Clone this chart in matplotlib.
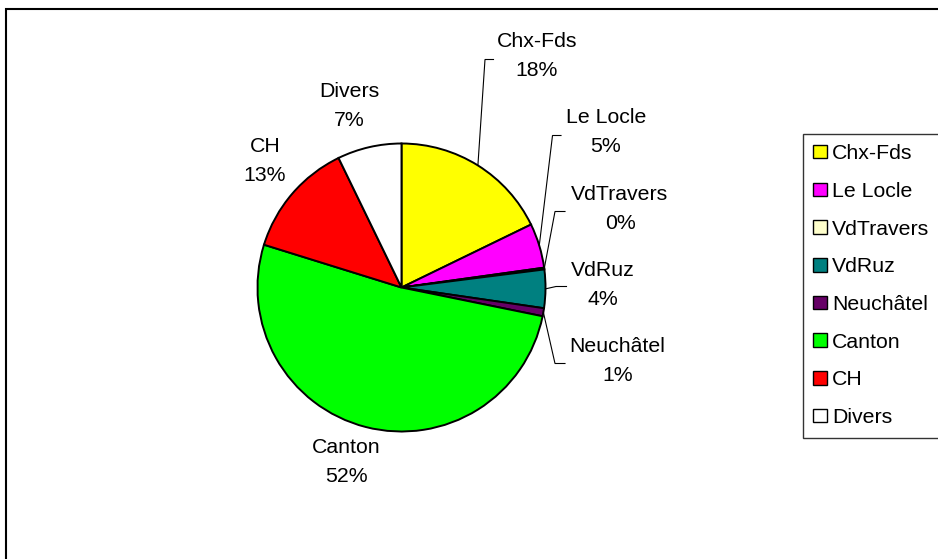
import numpy as np
import matplotlib
matplotlib.use("Agg")
import matplotlib.pyplot as plt
from matplotlib.patches import Rectangle

plt.rcParams['font.family'] = ['Liberation Sans', 'DejaVu Sans']

# ---- data ----
categories = ["Chx-Fds", "Le Locle", "VdTravers", "VdRuz", "Neuchâtel", "Canton", "CH", "Divers"]
values = [17.8, 5.0, 0.2, 4.3, 0.9, 51.6, 13.0, 7.2]
colors = ["#FFFF00", "#FF00FF", "#FFFFCC", "#008080", "#660066", "#00FF00", "#FF0000", "#FFFFFF"]

# ---- layout (pixels in a 938x559 canvas) ----
W, H = 938, 559
cx, cy, R = 401.5, 287.5, 144.0
# label block centers (px)
label_pos = {
    "Chx-Fds": (537, 56),
    "Le Locle": (606, 132),
    "VdTravers": (620, 209),
    "VdRuz": (603, 285),
    "Neuchâtel": (617.5, 361),
    "Canton": (346, 462),
    "CH": (265, 161),
    "Divers": (349, 106),
}
# leader lines: (elbow x, stub end x, y) in px
leaders = {
    "Chx-Fds": (485, 493.5, 59.5),
    "Le Locle": (552.5, 561, 135.5),
    "VdTravers": (555, 565, 211.5),
    "VdRuz": (556, 566.5, 286.5),
    "Neuchâtel": (555, 565, 363.5),
}

fig = plt.figure(figsize=(W / 100, H / 100), dpi=100)
fig.patch.set_facecolor("white")

# outer chart frame
fig.patches.append(Rectangle((6 / W, -0.1), 1.2, (H - 9) / H + 0.1, transform=fig.transFigure,
                             fill=False, edgecolor="black", linewidth=1.5))

ax = fig.add_axes([(cx - R) / W, (H - cy - R) / H, 2 * R / W, 2 * R / H])
wedges, _ = ax.pie(values, colors=colors, startangle=90, counterclock=False, radius=1.0,
                   wedgeprops=dict(edgecolor="black", linewidth=1.4))
ax.set_xlim(-1, 1)
ax.set_ylim(-1, 1)
ax.set_aspect("equal")
ax.axis("off")


def px2d(px, py):
    return (px - cx) / R, (cy - py) / R


total = sum(values)
fs = 15.3
for w, cat, v in zip(wedges, categories, values):
    pct = int(round(100 * v / total))
    lx, ly = px2d(*label_pos[cat])
    ax.text(lx, ly, f"{cat}\n{pct}%", ha="center", va="center", fontsize=fs,
            linespacing=1.64, color="black", clip_on=False)
    if cat in leaders:
        theta = np.deg2rad((w.theta1 + w.theta2) / 2)
        ex, ey = np.cos(theta), np.sin(theta)
        elx, stx, sy = leaders[cat]
        x1, y1 = px2d(elx, sy)
        x2, _ = px2d(stx, sy)
        ax.plot([ex, x1, x2], [ey, y1, y1], color="black", linewidth=0.8, clip_on=False,
                solid_joinstyle="miter")

leg = fig.legend(wedges, categories, loc="upper left",
                 bbox_to_anchor=(802.5 / W, 1 - 133.5 / H, 160 / W, 0),
                 bbox_transform=fig.transFigure, mode="expand",
                 fontsize=fs, frameon=True, fancybox=False, edgecolor="black",
                 handlelength=0.66, handleheight=0.61, handletextpad=0.22,
                 labelspacing=0.88, borderpad=0.5, borderaxespad=0)
leg.get_frame().set_linewidth(1.0)
for h in leg.legend_handles:
    h.set_linewidth(1.0)

fig.savefig("out.png", dpi=100)
